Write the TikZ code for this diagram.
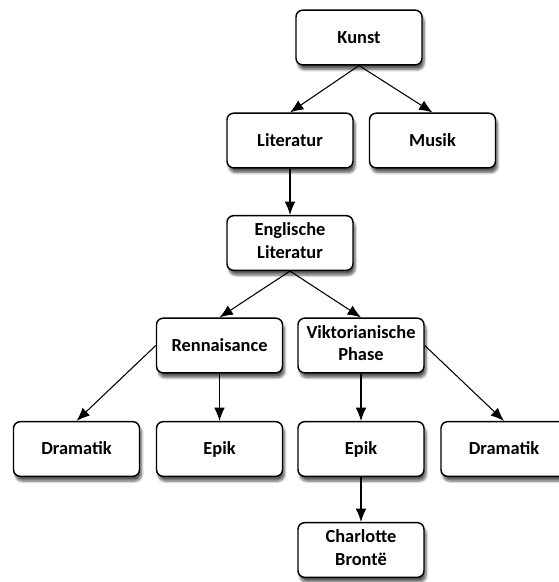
\documentclass[tikz,border=0pt]{standalone}
\usepackage{fontspec}
\setmainfont{Carlito}
\usetikzlibrary{arrows.meta,shadows.blur}
\newcommand\boxstrut{\rule[-0.26em]{0pt}{1.16em}}
\begin{document}
\begin{tikzpicture}[x=0.75pt,y=-0.75pt,
  box/.style={draw=black,line width=1.1pt,fill=white,rounded corners=5pt,
    minimum width=94.5pt,minimum height=41pt,align=center,
    font=\fontsize{13.8}{17}\selectfont\bfseries,
    execute at begin node=\boxstrut, execute at end node=\boxstrut,
    blur shadow={shadow xshift=1.5pt,shadow yshift=-3.5pt,shadow blur steps=6,shadow opacity=65}},
  conn/.style={line width=0.8pt,-{Latex[length=10pt,width=8pt]}}]
\useasboundingbox (0,0) rectangle (559,582);
\node[box] (kunst) at (359,37.5) {Kunst};
\node[box] (lit) at (290,140.5) {Literatur};
\node[box] (musik) at (432.5,140.5) {Musik};
\node[box] (engl) at (290,243) {Englische\\Literatur};
\node[box] (renn) at (219.5,345.5) {Rennaisance};
\node[box] (vikt) at (361,345.5) {Viktorianische\\Phase};
\node[box] (dram1) at (76.5,449) {Dramatik};
\node[box] (epik1) at (219.5,449) {Epik};
\node[box] (epik2) at (361,449) {Epik};
\node[box] (dram2) at (504,449) {Dramatik};
\node[box] (charl) at (361,550) {Charlotte\\Brontë};
\draw[conn] (kunst.south) -- (lit.north);
\draw[conn] (kunst.south) -- (musik.north);
\draw[conn] (lit.south) -- (engl.north);
\draw[conn] (engl.south) -- (renn.north);
\draw[conn] (engl.south) -- (vikt.north);
\draw[conn] (renn.west) -- (dram1.north);
\draw[conn] (renn.south) -- (epik1.north);
\draw[conn] (vikt.south) -- (epik2.north);
\draw[conn] (vikt.east) -- (dram2.north);
\draw[conn] (epik2.south) -- (charl.north);
\end{tikzpicture}
\end{document}
